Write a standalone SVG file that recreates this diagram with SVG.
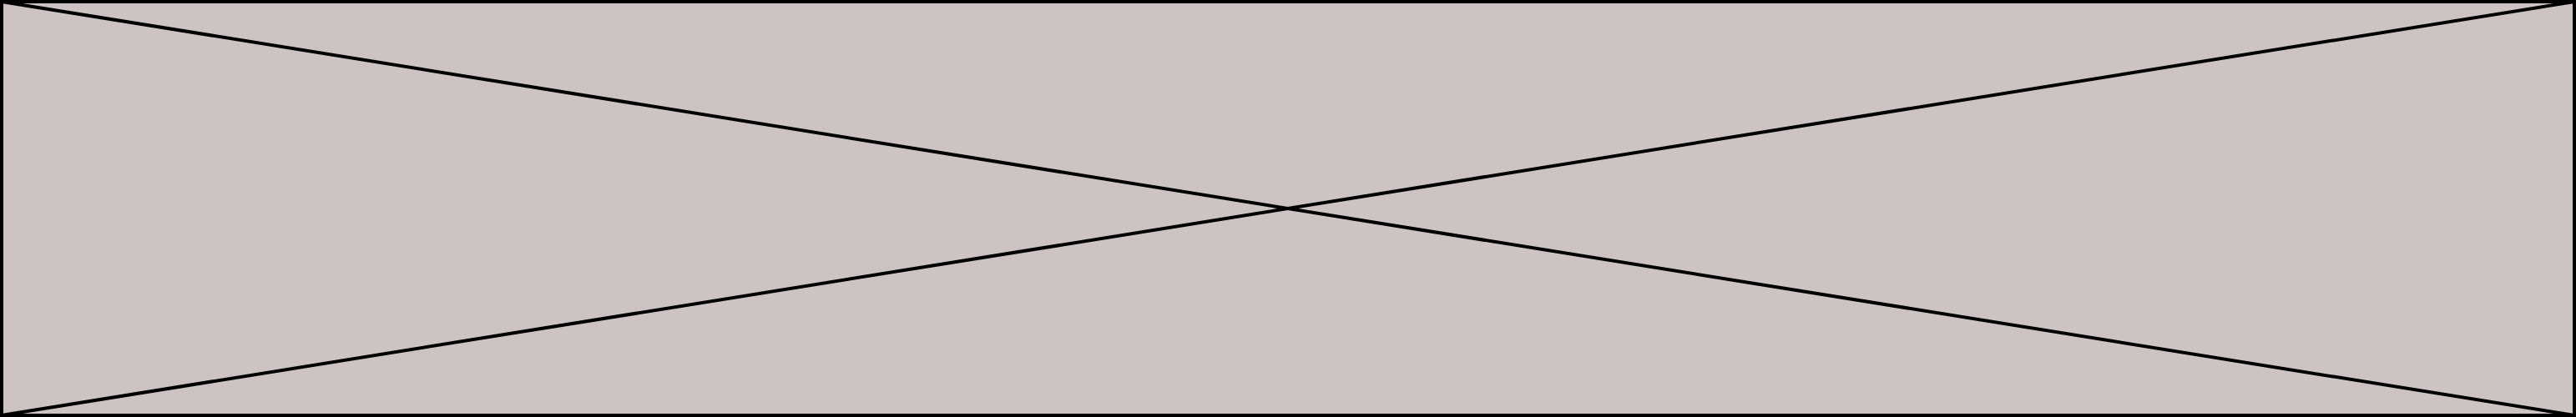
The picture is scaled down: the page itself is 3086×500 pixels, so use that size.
<svg xmlns="http://www.w3.org/2000/svg" width="3086" height="500" viewBox="0 0 3086 500">
<style>.l{stroke:#000;stroke-width:4;fill:none}</style>
<g id="placeholder">
<rect x="2" y="2" width="3082" height="496" fill="#cdc3c2" stroke="#000" stroke-width="4"/>
</g>
<g id="connectors">
<line class="l" x1="2" y1="2" x2="3084" y2="498"/>
<line class="l" x1="3084" y1="2" x2="2" y2="498"/>
</g>
</svg>
